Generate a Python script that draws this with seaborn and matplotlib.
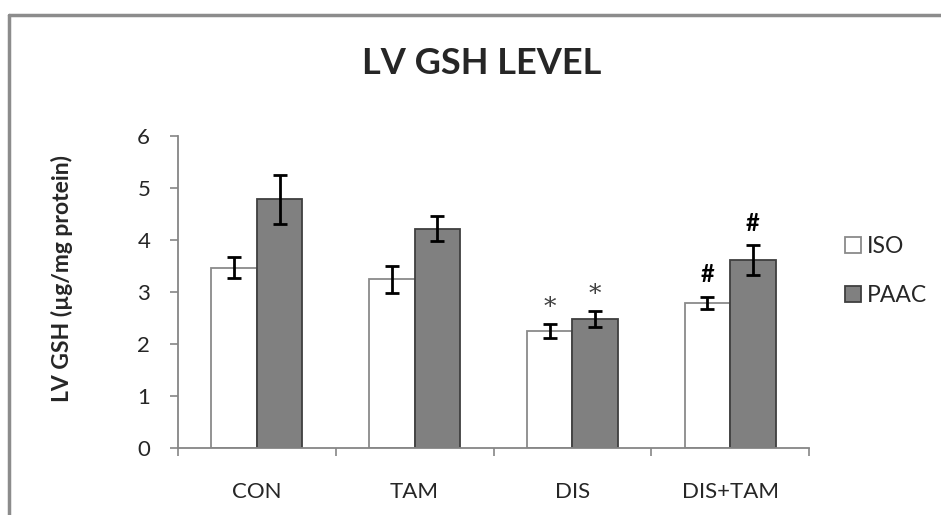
import pandas as pd
import matplotlib.pyplot as plt
import seaborn as sns
from matplotlib.lines import Line2D

# Data
groups = ['CON', 'TAM', 'DIS', 'DIS+TAM']
iso_mean = [3.47, 3.24, 2.25, 2.79]
iso_err = [0.20, 0.26, 0.135, 0.12]
paac_mean = [4.78, 4.21, 2.48, 3.61]
paac_err = [0.47, 0.24, 0.16, 0.29]
iso_marks = ['', '', '*', '#']
paac_marks = ['', '', '*', '#']

df = pd.DataFrame({
    'group': groups * 2,
    'treatment': ['ISO'] * 4 + ['PAAC'] * 4,
    'value': iso_mean + paac_mean,
})

sns.set_style('white')
plt.rcParams['font.family'] = ['Lato', 'DejaVu Sans']

fig = plt.figure(figsize=(9.41, 5.15), dpi=100)
ax = fig.add_axes([178 / 941, 66.7 / 515, 631 / 941, 312.6 / 515])

sns.barplot(data=df, x='group', y='value', hue='treatment', order=groups,
            hue_order=['ISO', 'PAAC'], palette={'ISO': 'white', 'PAAC': '#808080'},
            width=0.576, errorbar=None, ax=ax)

# edge colours, error bars and significance marks per hue
edge = {'ISO': '#8a8a8a', 'PAAC': '#3f3f3f'}
errs = {'ISO': iso_err, 'PAAC': paac_err}
means = {'ISO': iso_mean, 'PAAC': paac_mean}
marks = {'ISO': iso_marks, 'PAAC': paac_marks}
for cont, name in zip(ax.containers, ['ISO', 'PAAC']):
    xs = []
    for bar in cont:
        bar.set_edgecolor(edge[name])
        bar.set_linewidth(1.3)
        xs.append(bar.get_x() + bar.get_width() / 2)
    ax.errorbar(xs, means[name], yerr=errs[name], fmt='none', ecolor='black',
                elinewidth=2, capsize=4.7, capthick=2, zorder=5)
    for x, m, e, s in zip(xs, means[name], errs[name], marks[name]):
        if s == '*':
            ax.text(x, m + e + 0.1, s, ha='center', va='bottom', fontsize=18,
                    color='#404040', family='DejaVu Serif')
        elif s == '#':
            ax.text(x, m + e + 0.2, s, ha='center', va='bottom', fontsize=17,
                    fontweight='bold', color='black')

ax.set_ylim(0, 6)
ax.set_xlim(-0.5, 3.5)
ax.set_yticks(range(0, 7))
ax.set_xticks([-0.5, 0.5, 1.5, 2.5, 3.5])
ax.set_xticklabels([])
ax.set_xticks(range(4), minor=True)
ax.set_xticklabels(groups, minor=True)
ax.tick_params(axis='x', which='major', direction='out', length=6, width=1.2,
               color='#868686', bottom=True)
ax.tick_params(axis='x', which='minor', length=0, pad=24, labelsize=16)
ax.tick_params(axis='y', direction='out', length=6, width=1.2, color='#868686',
               left=True, labelsize=16, pad=14)
for side in ['top', 'right']:
    ax.spines[side].set_visible(False)
for side in ['left', 'bottom']:
    ax.spines[side].set_color('#868686')
    ax.spines[side].set_linewidth(1.3)

ax.set_xlabel('')
ax.set_ylabel('')
fig.text(62 / 941, 1 - 278 / 515, 'LV GSH (µg/mg protein)', rotation=90, ha='center',
         va='center', fontsize=16.5, fontweight='bold')

fig.text(482 / 941, 1 - 63 / 515, 'LV GSH LEVEL', ha='center', va='center',
         fontsize=26, fontweight='bold')

handles, labels = ax.get_legend_handles_labels()
leg = ax.legend(handles, labels, loc='center left', bbox_to_anchor=(845 / 941, 1 - 271 / 515),
                bbox_transform=fig.transFigure, frameon=False, fontsize=16.5,
                handlelength=0.7, handleheight=0.7, handletextpad=0.25, labelspacing=1.2,
                borderaxespad=0, borderpad=0)
for h, name in zip(leg.legend_handles, ['ISO', 'PAAC']):
    h.set_edgecolor(edge[name])
    h.set_linewidth(1.3)

# outer chart border (top and left edges visible)
fig.add_artist(Line2D([9 / 941, 1.01], [1 - 15 / 515, 1 - 15 / 515], color='#8c8c8c', lw=2.5,
                      transform=fig.transFigure))
fig.add_artist(Line2D([9 / 941, 9 / 941], [1 - 15 / 515, -0.01], color='#8c8c8c', lw=2.5,
                      transform=fig.transFigure))

fig.savefig('out.png', dpi=100)
